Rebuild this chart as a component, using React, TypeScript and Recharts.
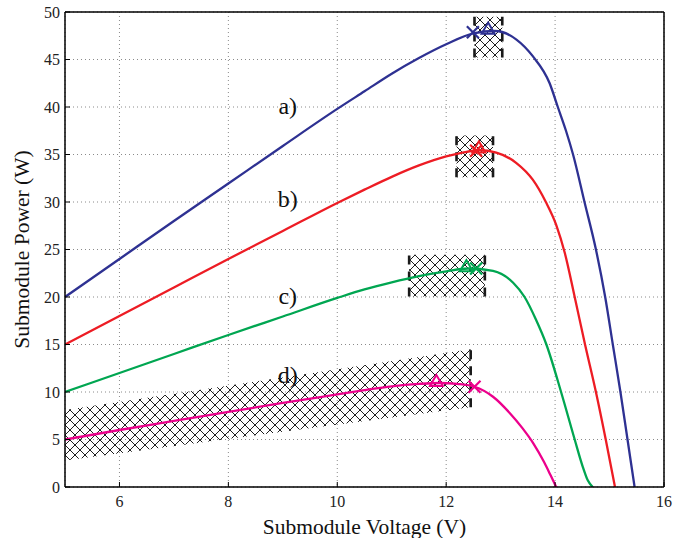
import React from 'react';
import {
  ComposedChart,
  Line,
  Area,
  Scatter,
  XAxis,
  YAxis,
  CartesianGrid,
  ReferenceArea,
  ReferenceLine,
  ReferenceDot,
} from 'recharts';

// P-V curves
const voltsA = [5, 6, 7, 8, 9, 10, 10.5, 11, 11.5, 12, 12.5, 12.9, 13.29, 13.59, 13.9, 14.05, 14.2, 14.33, 14.54, 14.75, 14.92, 15.06, 15.2, 15.33, 15.46];
const powerA = [20, 24, 28, 31.95, 35.9, 39.8, 41.65, 43.5, 45.15, 46.6, 47.75, 48.0, 47.1, 45.35, 42.5, 40, 37.5, 35, 30, 25, 20, 15, 10, 5, 0];

const voltsB = [5, 6, 7, 8, 9, 10, 10.5, 11, 11.5, 12, 12.3, 12.61, 12.92, 13.29, 13.59, 13.83, 14.02, 14.18, 14.36, 14.55, 14.75, 14.93, 15.1];
const powerB = [15, 18, 21, 24, 26.95, 29.9, 31.3, 32.65, 33.85, 34.8, 35.2, 35.45, 35.2, 34.1, 32.35, 30, 27.6, 24.6, 20, 15, 10, 5, 0];

const voltsC = [5, 6, 7, 8, 9, 10, 10.5, 11, 11.5, 12, 12.4, 12.86, 13.23, 13.44, 13.65, 13.84, 14.11, 14.36, 14.51, 14.6, 14.69];
const powerC = [10, 12, 14, 16, 17.95, 19.9, 20.8, 21.55, 22.2, 22.7, 23.0, 22.75, 21.5, 20, 17.6, 15, 10, 5, 2.1, 0.7, 0];

const voltsD = [5, 6, 7, 8, 9, 10, 10.5, 11, 11.5, 11.88, 12.2, 12.52, 12.86, 13.17, 13.4, 13.6, 13.8, 13.92, 14.02];
const powerD = [5, 6, 6.95, 7.9, 8.85, 9.75, 10.2, 10.6, 10.85, 10.95, 10.85, 10.55, 9.5, 7.77, 6.2, 4.6, 2.6, 1.2, 0];

// 'x' markers and triangle markers near each maximum (a, b, c, d)
const crossV = [12.49, 12.55, 12.55, 12.52];
const crossP = [47.87, 35.4, 23.0, 10.55];
const triV = [12.77, 12.6, 12.37, 11.82];
const triP = [48.2, 35.7, 23.2, 11.1];

// hatched search windows for a, b, c: [v1, v2, p1, p2]
const boxes = [
  [12.52, 13.03, 45.2, 49.5],
  [12.19, 12.86, 32.6, 37.0],
  [11.32, 12.71, 20.05, 24.45],
];

// slanted hatched band for d
const bandV = [5, 12.45];
const bandLow = [2.8, 8.4];
const bandHigh = [8.1, 14.5];

const curveLabels = ['a)', 'b)', 'c)', 'd)'];
const labelV = [9.09, 9.09, 9.09, 9.09];
const labelP = [40.15, 30.4, 20.2, 11.8];

const xTicks = [6, 8, 10, 12, 14, 16];
const yTicks = [0, 5, 10, 15, 20, 25, 30, 35, 40, 45, 50];

const colors = ['#2E3192', '#ED1C24', '#00A651', '#EC008C'];
const font = '"Liberation Serif", "DejaVu Serif", serif';

const toPoints = (vs: number[], ps: number[]) => vs.map((v, i) => ({ v, p: ps[i] }));

const curves = [
  toPoints(voltsA, powerA),
  toPoints(voltsB, powerB),
  toPoints(voltsC, powerC),
  toPoints(voltsD, powerD),
];
const bandData = bandV.map((v, i) => ({ v, band: [bandLow[i], bandHigh[i]] }));

const crossShape = (color: string) => (props: any) => {
  const { cx, cy } = props;
  const s = 6;
  return (
    <path
      d={`M${cx - s},${cy - s}L${cx + s},${cy + s}M${cx - s},${cy + s}L${cx + s},${cy - s}`}
      stroke={color}
      strokeWidth={2.2}
      fill="none"
    />
  );
};

const triShape = (color: string) => (props: any) => {
  const { cx, cy } = props;
  const s = 6.5;
  return (
    <path
      d={`M${cx},${cy - s}L${cx + s},${cy + s * 0.7}L${cx - s},${cy + s * 0.7}Z`}
      stroke={color}
      strokeWidth={2}
      fill="none"
    />
  );
};

const edgeStyle = { stroke: '#1a1a1a', strokeWidth: 2.6, strokeDasharray: '9 7' };

const App: React.FC = () => {
  return (
    <div style={{ position: 'absolute', left: 0, top: 0, width: 674, height: 538, background: '#fff' }}>
      <ComposedChart
        width={674}
        height={538}
        data={bandData}
        margin={{ top: 11, right: 9, left: 0, bottom: 0 }}
      >
        <defs>
          <pattern id="hatch" patternUnits="userSpaceOnUse" width={10} height={10}>
            <path d="M0,0L10,10M10,0L0,10" stroke="#1e1e1e" strokeWidth={1} />
          </pattern>
        </defs>
        <CartesianGrid stroke="#8a8a8a" strokeDasharray="1 3" />
        <XAxis
          dataKey="v"
          type="number"
          domain={[5, 16]}
          ticks={xTicks}
          allowDataOverflow
          height={51}
          tickSize={-5}
          tickMargin={14}
          axisLine={{ stroke: '#000', strokeWidth: 1.5 }}
          tickLine={{ stroke: '#000' }}
          tick={{ fill: '#222', fontSize: 16, fontFamily: font }}
          label={{
            value: 'Submodule Voltage (V)',
            position: 'insideBottom',
            offset: 4,
            fill: '#111',
            fontSize: 21.5,
            fontFamily: font,
          }}
        />
        <XAxis
          xAxisId="top"
          orientation="top"
          type="number"
          domain={[5, 16]}
          ticks={xTicks}
          allowDataOverflow
          height={1}
          tickSize={-5}
          tick={false}
          axisLine={{ stroke: '#000', strokeWidth: 1.5 }}
          tickLine={{ stroke: '#000' }}
        />
        <YAxis
          type="number"
          domain={[0, 50]}
          ticks={yTicks}
          allowDataOverflow
          width={65}
          tickSize={-5}
          tickMargin={10}
          axisLine={{ stroke: '#000', strokeWidth: 1.5 }}
          tickLine={{ stroke: '#000' }}
          tick={{ fill: '#222', fontSize: 16, fontFamily: font }}
          label={{
            value: 'Submodule Power (W)',
            angle: -90,
            position: 'insideLeft',
            offset: 21,
            style: { textAnchor: 'middle' },
            fill: '#111',
            fontSize: 21.5,
            fontFamily: font,
          }}
        />
        <YAxis
          yAxisId="right"
          orientation="right"
          type="number"
          domain={[0, 50]}
          ticks={yTicks}
          allowDataOverflow
          width={1}
          tickSize={-5}
          tick={false}
          axisLine={{ stroke: '#000', strokeWidth: 1.5 }}
          tickLine={{ stroke: '#000' }}
        />

        <Area
          dataKey="band"
          type="linear"
          stroke="none"
          fill="url(#hatch)"
          fillOpacity={1}
          isAnimationActive={false}
          activeDot={false}
          dot={false}
        />
        {boxes.map((b, i) => (
          <ReferenceArea
            key={'box' + i}
            x1={b[0]}
            x2={b[1]}
            y1={b[2]}
            y2={b[3]}
            fill="url(#hatch)"
            fillOpacity={1}
            stroke="none"
          />
        ))}
        {boxes.map((b, i) => (
          <ReferenceLine
            key={'l' + i}
            segment={[{ x: b[0], y: b[2] }, { x: b[0], y: b[3] }]}
            {...edgeStyle}
          />
        ))}
        {boxes.map((b, i) => (
          <ReferenceLine
            key={'r' + i}
            segment={[{ x: b[1], y: b[2] }, { x: b[1], y: b[3] }]}
            {...edgeStyle}
          />
        ))}
        <ReferenceLine
          segment={[{ x: bandV[1], y: bandLow[1] }, { x: bandV[1], y: bandHigh[1] }]}
          {...edgeStyle}
        />

        {curves.map((c, i) => (
          <Line
            key={'c' + i}
            data={c}
            dataKey="p"
            type="monotone"
            stroke={colors[i]}
            strokeWidth={2.3}
            dot={false}
            activeDot={false}
            isAnimationActive={false}
          />
        ))}
        {crossV.map((v, i) => (
          <Scatter
            key={'x' + i}
            data={[{ v, p: crossP[i] }]}
            dataKey="p"
            shape={crossShape(colors[i])}
            isAnimationActive={false}
          />
        ))}
        {triV.map((v, i) => (
          <Scatter
            key={'t' + i}
            data={[{ v, p: triP[i] }]}
            dataKey="p"
            shape={triShape(colors[i])}
            isAnimationActive={false}
          />
        ))}
        {curveLabels.map((t, i) => (
          <ReferenceDot
            key={'lab' + i}
            x={labelV[i]}
            y={labelP[i]}
            r={0}
            fill="none"
            stroke="none"
            label={{ value: t, position: 'center', fill: '#111', fontSize: 24, fontFamily: font }}
          />
        ))}
      </ComposedChart>
    </div>
  );
};

export default App;
